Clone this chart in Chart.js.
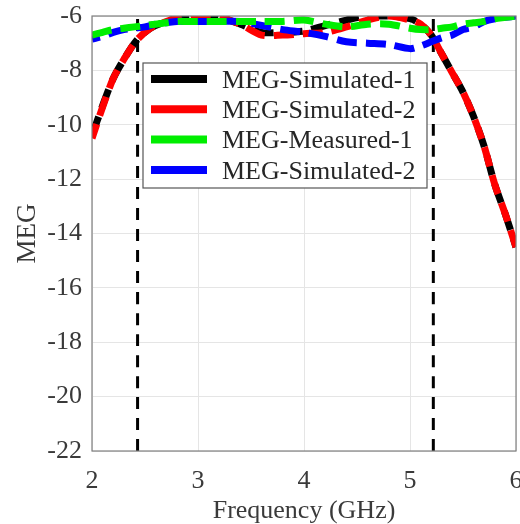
<!DOCTYPE html>
<html><head><meta charset="utf-8">
<script src="https://cdn.jsdelivr.net/npm/chart.js@4.4.1/dist/chart.umd.min.js"></script>
<style>html,body{margin:0;padding:0;background:#fff}#wrap{width:520px;height:524px}</style>
</head><body><div id="wrap"><canvas id="c" width="520" height="524"></canvas></div>
<script>
const simFreq = [2.0,2.1,2.2,2.3,2.42,2.55,2.7,2.85,3.0,3.2,3.4,3.6,3.8,4.0,4.2,4.4,4.6,4.8,5.0,5.1,5.2,5.3,5.4,5.5,5.6,5.7,5.8,5.9,6.0];
const megSim1 = [-10.4,-9.3,-8.3,-7.6,-6.9,-6.45,-6.2,-6.05,-6.0,-6.05,-6.3,-6.6,-6.6,-6.55,-6.35,-6.15,-6.0,-6.0,-6.1,-6.3,-6.7,-7.4,-8.1,-8.8,-9.7,-10.8,-12.2,-13.3,-14.5];
const megSim2 = [-10.5,-9.35,-8.3,-7.6,-6.9,-6.45,-6.2,-6.05,-6.0,-6.05,-6.3,-6.7,-6.7,-6.65,-6.6,-6.4,-6.15,-6.0,-6.15,-6.3,-6.7,-7.4,-8.1,-8.8,-9.7,-10.8,-12.2,-13.3,-14.5];
const measFreq = [2.0,2.1,2.2,2.3,2.4,2.5,2.6,2.7,2.8,2.9,3.0,3.2,3.4,3.6,3.8,4.0,4.2,4.4,4.6,4.8,5.0,5.1,5.2,5.3,5.4,5.5,5.6,5.7,5.8,5.9,6.0];
const megMeas1 = [-6.7,-6.6,-6.5,-6.45,-6.4,-6.35,-6.3,-6.25,-6.2,-6.2,-6.2,-6.2,-6.2,-6.2,-6.2,-6.15,-6.3,-6.4,-6.3,-6.3,-6.45,-6.5,-6.5,-6.45,-6.4,-6.3,-6.25,-6.2,-6.1,-6.05,-6.0];
const megSim2b = [-6.85,-6.75,-6.6,-6.5,-6.45,-6.4,-6.3,-6.25,-6.2,-6.2,-6.2,-6.2,-6.2,-6.35,-6.5,-6.6,-6.75,-6.95,-7.0,-7.05,-7.2,-7.1,-6.95,-6.8,-6.7,-6.5,-6.4,-6.2,-6.1,-6.05,-6.0];
const markerFreqs = [2.43, 5.22];
const yRange = [-22, -6];
const xTicks = [2,3,4,5,6];
const seriesNames = ['MEG-Simulated-1','MEG-Simulated-2','MEG-Measured-1','MEG-Simulated-2'];

const pts = (xs, ys) => xs.map((x,i)=>({x, y: ys[i]}));
const FONT = "'Liberation Serif', 'Times New Roman', serif";

const datasets = [
  {label: seriesNames[0], data: pts(simFreq, megSim1), borderColor:'#000000', borderWidth:7, borderDash:[20,9], borderDashOffset:0, order:4},
  {label: seriesNames[1], data: pts(simFreq, megSim2), borderColor:'#ff0000', borderWidth:7, borderDash:[20,9], borderDashOffset:5, order:3},
  {label: seriesNames[2], data: pts(measFreq, megMeas1), borderColor:'#00ee00', borderWidth:7, borderDash:[20,9], borderDashOffset:0, order:1},
  {label: seriesNames[3], data: pts(measFreq, megSim2b), borderColor:'#0000ff', borderWidth:7, borderDash:[20,9], borderDashOffset:12, order:2},
];
markerFreqs.forEach(f => datasets.push({label:'', isMarker:true, data:[{x:f,y:yRange[0]},{x:f,y:yRange[1]}], borderColor:'#000', borderWidth:3, borderDash:[12,9], order:5}));
datasets.forEach(d => { d.pointRadius = 0; d.fill = false; d.tension = 0.3; d.showLine = true; d.backgroundColor = d.borderColor; });

const boxPlugin = {
  id:'box',
  afterDraw(chart){
    const {ctx, chartArea:a} = chart;
    ctx.save();
    ctx.strokeStyle = '#7f7f7f'; ctx.lineWidth = 1.2;
    ctx.strokeRect(a.left, a.top, a.right-a.left, a.bottom-a.top);
    // legend
    const lx = 143, ly = 63, lw = 284, lh = 125;
    ctx.fillStyle = '#fff'; ctx.fillRect(lx, ly, lw, lh);
    ctx.strokeStyle = '#555'; ctx.lineWidth = 1.2; ctx.strokeRect(lx, ly, lw, lh);
    ctx.font = "26px " + FONT; ctx.textBaseline = 'middle'; ctx.fillStyle = '#262626';
    chart.data.datasets.filter(d=>!d.isMarker).forEach((d,i)=>{
      const y = ly + 16 + i*30.3;
      ctx.strokeStyle = d.borderColor; ctx.lineWidth = 8; ctx.setLineDash([]);
      ctx.beginPath(); ctx.moveTo(151, y); ctx.lineTo(207, y); ctx.stroke();
      ctx.fillText(d.label, 222, y+2);
    });
    ctx.restore();
  }
};

new Chart(document.getElementById('c'), {
  type:'scatter',
  data:{datasets},
  options:{
    responsive:false, animation:false,
    layout:{padding:{top:16, right:4, left:0, bottom:0}},
    plugins:{legend:{display:false}, tooltip:{enabled:false}},
    scales:{
      x:{type:'linear', min:2, max:6,
        afterBuildTicks(s){ s.ticks = xTicks.map(v=>({value:v})); },
        afterFit(s){ s.height = 73; s.paddingLeft = 0; s.paddingRight = 0; },
        grid:{color:'#e5e5e5', drawTicks:false},
        border:{display:false},
        ticks:{font:{family:FONT, size:26}, color:'#3a3a3a', padding:15, maxRotation:0},
        title:{display:true, text:'Frequency (GHz)', font:{family:FONT, size:26, lineHeight:1.0}, color:'#3a3a3a', padding:{top:0, bottom:0}}
      },
      y:{type:'linear', min:yRange[0], max:yRange[1],
        ticks:{stepSize:2, font:{family:FONT, size:26}, color:'#3a3a3a', padding:10},
        afterFit(s){ s.width = 92; s.paddingTop = 0; s.paddingBottom = 0; },
        grid:{color:'#e5e5e5', drawTicks:false},
        border:{display:false},
        title:{display:true, text:'MEG', font:{family:FONT, size:27}, color:'#3a3a3a', padding:{top:12, bottom:0}}
      }
    }
  },
  plugins:[boxPlugin]
});
</script></body></html>
